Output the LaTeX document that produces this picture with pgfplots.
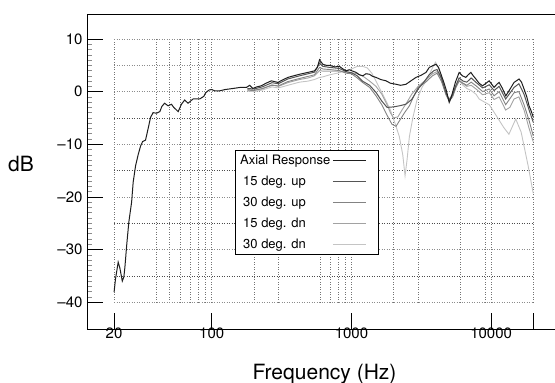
\documentclass[border=0pt]{standalone}
\usepackage{fontspec}
\setmainfont{TeX Gyre Heros}
\usepackage{pgfplots}
\usepackage{pgfplotstable}
\pgfplotsset{compat=1.18}

% Axial and off-axis responses: frequency (Hz), level (dB)
\pgfplotstableread{
f dB
20 -38.1
20.5 -35.5
21.4 -32.4
22.0 -33.5
22.9 -36.0
23.5 -35.2
23.9 -33.4
24.6 -29.3
25.5 -24.8
26.7 -21.0
27.4 -17.2
28.5 -14.1
29.8 -11.9
31 -10.3
32 -9.5
33.6 -9.2
35 -7.1
36.5 -4.9
38 -4.0
40.3 -4.1
42.5 -3.8
44 -2.8
46 -2.2
48.7 -2.7
51.5 -2.4
53.5 -3.0
55.5 -3.4
57.5 -3.8
60.7 -2.4
64 -1.6
67.7 -2.2
73.5 -1.4
82 -1.4
87.7 -0.9
90.6 -0.2
95.6 0.3
100 0.4
105 0.15
114 0.15
125 0.4
142 0.6
160 0.8
177 0.8
187 1.2
197 0.6
210 0.9
226 1.1
245 1.6
267 2.05
298 1.75
320 2.2
351 2.7
385 3.0
425 3.3
488 3.65
544 3.95
570 4.6
591 6.05
624 5.2
660 5.0
696 5.0
760 4.7
821 4.8
870 4.3
916 3.95
968 4.15
1020 3.9
1080 3.65
1140 3.2
1206 3.0
1270 3.4
1345 3.3
1420 2.9
1501 2.7
1620 2.3
1770 2.05
1900 1.6
2085 1.4
2250 1.2
2457 1.4
2650 2.0
2898 2.7
3150 3.1
3417 3.65
3607 4.6
3805 4.9
4028 5.2
4200 4.6
4375 3.3
4550 2.0
4748 0.5
5012 -2.05
5150 -1.3
5297 -0.15
5550 1.8
5906 3.65
6237 3.0
6589 2.7
6850 3.2
7160 3.65
7450 3.0
7779 2.4
8200 1.6
8675 1.1
9200 1.6
9679 2.05
10100 1.4
10500 0.8
11000 1.4
11400 1.75
12000 0.7
12730 -0.8
13600 0.4
14590 1.75
15850 2.4
16500 1.8
17200 0.5
18000 -1.0
18680 -2.7
19300 -3.6
20000 -4.8
}\axial

\pgfplotstableread{
f dB
180 0.6
200 0.5
230 0.9
270 1.7
300 1.5
350 2.4
425 3.0
490 3.4
544 3.7
591 5.4
624 4.8
700 4.6
820 4.4
916 3.8
1000 3.6
1100 3.0
1200 2.0
1350 1.2
1500 -0.15
1650 -1.8
1800 -3.0
2000 -2.9
2200 -2.7
2450 -2.4
2700 -1.5
3000 0.5
3300 1.8
3600 3.2
3900 4.0
4100 4.2
4400 2.6
4750 -0.2
5000 -1.6
5300 -0.6
5600 1.2
5900 2.6
6300 2.0
6700 1.8
7200 2.6
7800 1.75
8700 0.7
9700 1.3
10500 0.2
11400 1.0
12700 -1.4
14600 0.8
15800 1.5
17200 -0.5
18700 -3.5
20000 -5.8
}\upfifteen

\pgfplotstableread{
f dB
180 0.3
200 0.2
230 0.6
270 1.2
300 1.1
350 1.9
425 2.5
490 2.9
544 3.2
591 4.6
624 4.3
700 4.2
820 4.0
916 3.5
1000 3.4
1100 2.6
1200 1.75
1350 0.8
1500 -0.8
1650 -2.5
1800 -4.5
1950 -6.2
2085 -6.6
2200 -5.6
2400 -4.0
2600 -2.7
2800 -0.8
3000 0.8
3400 1.8
3800 3.0
4100 3.5
4400 2.0
4750 -0.6
5000 -1.8
5300 -1.0
5600 0.8
5900 2.0
6300 1.6
6700 1.2
7200 1.8
7800 1.1
8700 0.0
9700 0.5
10500 -0.8
11400 0.0
12700 -2.5
14600 -0.2
15800 0.0
17200 -2.5
18700 -5.5
20000 -8.4
}\upthirty

\pgfplotstableread{
f dB
180 0.4
200 0.3
230 0.5
270 1.3
300 1.0
350 1.7
425 2.3
490 2.6
544 3.0
591 4.0
624 3.9
700 3.9
820 3.9
916 3.7
1000 3.6
1100 3.4
1200 3.0
1350 2.0
1500 1.0
1650 -0.5
1800 -2.5
1900 -4.0
2000 -5.0
2150 -4.8
2300 -3.5
2500 -2.0
2700 -0.5
3000 1.0
3400 2.2
3800 3.4
4100 3.8
4400 2.4
4750 -0.4
5000 -1.5
5300 -0.8
5600 1.0
5900 2.2
6300 1.5
6700 1.0
7200 1.2
7800 0.5
8700 -0.6
9700 -0.2
10500 -1.5
11400 -1.0
12700 -3.5
13600 -3.0
14600 -1.4
15800 -1.0
17200 -3.5
18700 -7.0
20000 -9.5
}\dnfifteen

\pgfplotstableread{
f dB
180 0.1
200 0.0
230 0.3
270 0.9
300 0.7
350 1.2
425 1.8
490 2.0
544 2.3
591 2.7
624 2.8
700 3.2
820 3.6
916 4.0
1000 4.3
1100 4.8
1200 4.8
1300 4.5
1400 3.5
1500 2.0
1600 0.5
1750 -1.5
1900 -3.5
2050 -6.0
2200 -8.5
2330 -12.0
2420 -16.0
2500 -13.0
2600 -8.5
2750 -5.0
2950 -1.5
3200 0.8
3500 2.5
3800 4.5
4000 5.6
4200 4.5
4400 2.6
4750 -0.3
5000 -1.4
5300 -0.4
5600 1.2
5900 2.05
6300 1.2
6700 0.6
7200 0.2
7800 -0.5
8200 -1.4
9700 -2.5
10900 -4.6
12300 -6.8
13400 -8.1
15000 -5.2
16400 -7.7
18400 -14.1
20000 -19.3
}\dnthirty

\definecolor{cAxial}{HTML}{1E1E1E}
\definecolor{cUpA}{HTML}{555555}
\definecolor{cUpB}{HTML}{838383}
\definecolor{cDnA}{HTML}{A2A2A2}
\definecolor{cDnB}{HTML}{C4C4C4}

\begin{document}
\begin{tikzpicture}
\begin{axis}[
  scale only axis,
  width=468pt, height=315pt,
  xmode=log,
  xmin=12.8, xmax=28650,
  ymin=-45.1, ymax=14.75,
  axis x line=box,
  axis y line=left,
  axis line style={black, line width=0.9pt, -},
  tick align=inside,
  xtick pos=bottom, ytick pos=left,
  xtick={20,100,1000,10000},
  xticklabels={20,100,1000,10000},
  extra x ticks={20000},
  extra x tick labels={},
  ytick={-40,-30,-20,-10,0,10},
  yticklabels={–40,–30,–20,–10,0,10},
  minor y tick num=9,
  major tick length=16pt,
  minor tick length=5pt,
  every major tick/.style={black, line width=0.7pt},
  every minor tick/.style={black!45, line width=0.5pt},
  tick label style={font=\fontsize{15}{17}\selectfont},
  xticklabel style={yshift=5pt},
  yticklabel style={xshift=-1pt},
  xlabel={Frequency (Hz)},
  ylabel={dB},
  label style={font=\fontsize{21}{24}\selectfont},
  xlabel style={at={(axis description cs:0.5075,-0.142)}, anchor=center},
  ylabel style={at={(axis description cs:-0.141,0.524)}, anchor=center, rotate=-90},
  legend plot pos=right,
  reverse legend,
  legend cell align=left,
  legend image code/.code={\draw[#1] (4pt,0pt) -- (37pt,0pt); \path (46pt,0pt);},
  legend style={at={(axis description cs:0.316,0.568)}, anchor=north west,
    draw=black, line width=0.6pt, fill=white,
    font=\fontsize{13}{15}\selectfont,
    inner xsep=3pt, inner ysep=2.5pt, row sep=6.1pt},
]
% dotted measurement grid
\pgfplotsinvokeforeach{20,40,50,60,70,80,90,100,200,300,600,700,800,900,1000,2000,3000,6000,9000,10000,20000}{
  \draw[black!55, line width=0.5pt, dotted] (axis cs:#1,-40) -- (axis cs:#1,10);
}
\pgfplotsinvokeforeach{-35,-25,-15,-5}{
  \draw[black!70, line width=0.5pt, dotted] (axis cs:20,#1) -- (axis cs:20000,#1);
}
\pgfplotsinvokeforeach{-40,-30,-20,-10,0,5,10}{
  \draw[black!45, line width=0.5pt, dotted] (axis cs:20,#1) -- (axis cs:20000,#1);
}
\addplot[cDnB, line width=0.9pt] table[x=f, y=dB] {\dnthirty};
\addlegendentry{\hspace{3pt}30 deg. dn}
\addplot[cDnA, line width=0.9pt] table[x=f, y=dB] {\dnfifteen};
\addlegendentry{\hspace{3pt}15 deg. dn}
\addplot[cUpB, line width=0.9pt] table[x=f, y=dB] {\upthirty};
\addlegendentry{\hspace{3pt}30 deg. up}
\addplot[cUpA, line width=1.0pt] table[x=f, y=dB] {\upfifteen};
\addlegendentry{\hspace{3pt}15 deg. up}
\addplot[cAxial, line width=1.0pt] table[x=f, y=dB] {\axial};
\addlegendentry{Axial Response}
\end{axis}
\pgfresetboundingbox
\path (-87pt,-54pt) rectangle (468pt,329pt);
\end{tikzpicture}
\end{document}
